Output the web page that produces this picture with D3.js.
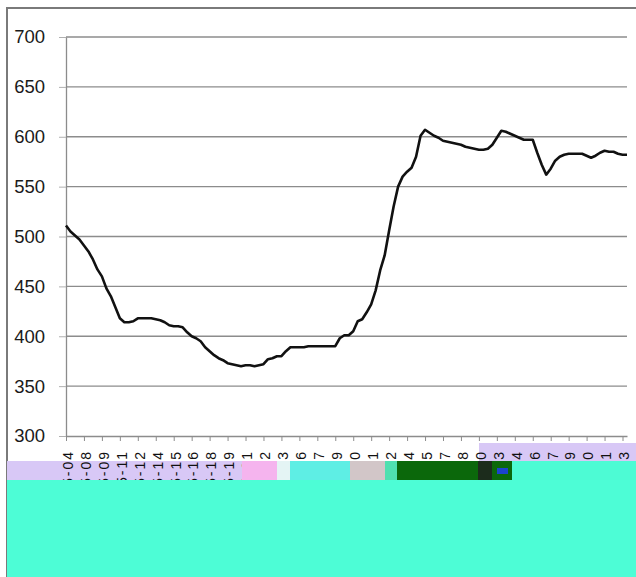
<!DOCTYPE html>
<html>
<head>
<meta charset="utf-8">
<script src="https://cdn.jsdelivr.net/npm/d3@7/dist/d3.min.js"></script>
<style>
body { margin: 0; background: #fff; }
</style>
</head>
<body>
<svg width="636" height="577"></svg>
<script>
// category labels, one every 4th point
var tick_labels = ["05-04","05-08","05-09","05-11","05-12","05-14","05-15","05-16","05-18","05-19",
    "05-21","05-22","05-23","05-26","05-27","05-29","05-30","06-01","06-02","06-04",
    "06-05","06-07","06-08","06-10","06-13","06-14","06-16","06-17","06-19","06-20",
    "06-21","06-23"]
var tick_every = 4

// series values
var values = [
    511, 505, 501, 497, 491, 485, 477, 467, 460, 448,
    440, 429, 418, 414, 414, 415, 418, 418, 418, 418,
    417, 416, 414, 411, 410, 410, 409, 404, 400, 398,
    395, 389, 385, 381, 378, 376, 373, 372, 371, 370,
    371, 371, 370, 371, 372, 377, 378, 380, 380, 385,
    389, 389, 389, 389, 390, 390, 390, 390, 390, 390,
    390, 398, 401, 401, 405, 415, 417, 424, 432, 446,
    466, 481, 506, 530, 550, 560, 565, 569, 580, 601,
    607, 604, 601, 599, 596, 595, 594, 593, 592, 590,
    589, 588, 587, 587, 588, 592, 599, 606, 605, 603,
    601, 599, 597, 597, 597, 584, 572, 562, 568, 576,
    580, 582, 583, 583, 583, 583, 581, 579, 581, 584,
    586, 585, 585, 583, 582, 582
]

var y_ticks = [300, 350, 400, 450, 500, 550, 600, 650, 700]

// scanned copy is damaged under the axis: [x, y, w, h, colour]
var damage_under = [
    [7, 461, 235, 20, "#d8c8f6"],
    [479, 443, 157, 18, "#d8c8f6"]
]
var damage_over = [
    [242, 461, 35, 20, "#f5b4ee"],
    [277, 461, 13, 20, "#e4f4f4"],
    [290, 461, 60, 20, "#5eeee4"],
    [350, 461, 35, 20, "#d2c6c8"],
    [385, 461, 12, 20, "#4fe0b0"],
    [397, 461, 81, 20, "#0b680b"],
    [478, 461, 14, 20, "#1c2c1c"],
    [492, 461, 20, 20, "#0b680b"],
    [497, 468, 11, 6, "#1c44cc"],
    [512, 461, 124, 20, "#4dfbd4"],
    [7, 480, 629, 97, "#4dfdd6"]
]

var svg = d3.select("svg"),
    plot_left = 66,
    plot_right = 627,
    plot_top = 37,
    plot_bottom = 436

var xScale = d3.scaleLinear().domain([0, values.length - 1]).range([plot_left, plot_right]),
    yScale = d3.scaleLinear().domain([300, 700]).range([plot_bottom, plot_top])

svg.append("rect")
    .attr("width", 636)
    .attr("height", 577)
    .style("fill", "#fff")

// chart border (only top and left survive in the picture)
svg.append("path")
    .attr("d", "M7,577V8H636")
    .style("fill", "none")
    .style("stroke", "#7a7a7a")
    .style("stroke-width", 2)

function drawDamage(list) {
    svg.append("g")
        .selectAll("rect")
        .data(list)
        .enter()
        .append("rect")
        .attr("x", function (d) { return d[0] })
        .attr("y", function (d) { return d[1] })
        .attr("width", function (d) { return d[2] })
        .attr("height", function (d) { return d[3] })
        .style("fill", function (d) { return d[4] })
}

drawDamage(damage_under)

// gridlines
svg.append("g")
    .selectAll("line")
    .data(y_ticks.slice(1))
    .enter()
    .append("line")
    .attr("x1", plot_left)
    .attr("x2", plot_right)
    .attr("y1", function (d) { return yScale(d) })
    .attr("y2", function (d) { return yScale(d) })
    .style("stroke", "#8c8c8c")
    .style("stroke-width", 1.3)

// y axis
var gy = svg.append("g")
    .attr("transform", "translate(" + plot_left + ",0)")
    .call(d3.axisLeft(yScale).tickValues(y_ticks).tickSize(7).tickSizeOuter(0).tickPadding(14))
gy.select(".domain").style("stroke", "#8c8c8c").style("stroke-width", 1.3)
gy.selectAll(".tick line").style("stroke", "#b0b0b0")
gy.selectAll("text")
    .style("font-family", "'Liberation Sans Narrow', 'Liberation Sans', sans-serif")
    .style("font-size", "18.5px")
    .style("fill", "#1a1a1a")

// x axis
var gx = svg.append("g")
    .attr("transform", "translate(0," + plot_bottom + ")")
    .call(d3.axisBottom(xScale)
        .tickValues(d3.range(0, values.length, tick_every))
        .tickSize(5)
        .tickSizeOuter(0)
        .tickFormat(function (d) { return tick_labels[d / tick_every] }))
gx.select(".domain").style("stroke", "#8c8c8c").style("stroke-width", 1.3)
gx.selectAll(".tick line").style("stroke", "#8c8c8c")
gx.selectAll("text")
    .attr("transform", "rotate(-90)")
    .attr("x", -14)
    .attr("y", 0)
    .attr("dy", "0.45em")
    .style("text-anchor", "end")
    .style("font-family", "'Liberation Sans', sans-serif")
    .style("font-size", "14px")
    .style("letter-spacing", "2px")
    .style("fill", "#111")

// the series line
var line = d3.line()
    .x(function (d, i) { return xScale(i) })
    .y(function (d) { return yScale(d) })

svg.append("path")
    .datum(values)
    .attr("d", line)
    .style("fill", "none")
    .style("stroke", "#111")
    .style("stroke-width", 2.6)
    .style("stroke-linejoin", "round")

drawDamage(damage_over)
</script>
</body>
</html>
